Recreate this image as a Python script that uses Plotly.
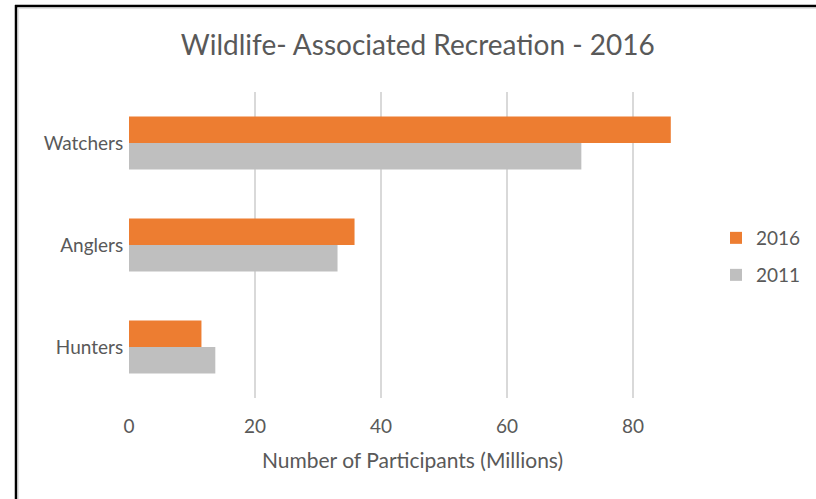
import plotly.graph_objects as go

categories = ["Hunters", "Anglers", "Watchers"]
values_2011 = [13.7, 33.1, 71.8]
values_2016 = [11.5, 35.8, 86.0]
x_ticks = [0, 20, 40, 60, 80]

W, H = 816, 499
ML, MR, MT, MB = 129, 120, 92, 101
FONT = "Lato"
GRAY = "#595959"

fig = go.Figure()
fig.add_trace(go.Bar(y=categories, x=values_2011, orientation="h", name="2011",
                     marker=dict(color="#BFBFBF", line=dict(width=0)), legend="legend2"))
fig.add_trace(go.Bar(y=categories, x=values_2016, orientation="h", name="2016",
                     marker=dict(color="#ED7D31", line=dict(width=0)), legend="legend"))

def px_x(p):
    return (p - ML) / (W - ML - MR)

def px_y(p):
    return 1 - (p - MT) / (H - MT - MB)

shapes = [
    dict(type="line", xref="paper", yref="paper", x0=px_x(15), x1=px_x(820), y0=px_y(6), y1=px_y(6),
         line=dict(color="black", width=2.5)),
    dict(type="line", xref="paper", yref="paper", x0=px_x(16), x1=px_x(16), y0=px_y(5), y1=px_y(505),
         line=dict(color="black", width=2.5)),
    dict(type="line", xref="paper", yref="paper", x0=px_x(18), x1=px_x(820), y0=px_y(8.5), y1=px_y(8.5),
         line=dict(color="#E3E3E3", width=1)),
    dict(type="line", xref="paper", yref="paper", x0=px_x(18.5), x1=px_x(18.5), y0=px_y(8), y1=px_y(505),
         line=dict(color="#E3E3E3", width=1)),
]

legend_common = dict(xanchor="left", yanchor="middle", font=dict(size=19, color=GRAY),
                     itemwidth=30, bgcolor="rgba(0,0,0,0)")

fig.update_layout(
    width=W, height=H,
    margin=dict(l=ML, r=MR, t=MT, b=MB, autoexpand=False),
    paper_bgcolor="white", plot_bgcolor="white",
    barmode="group", bargap=0.48, bargroupgap=0,
    font=dict(family=FONT, color=GRAY, size=19),
    title=dict(text="Wildlife- Associated Recreation - 2016", x=0.512, xanchor="center",
               y=1 - 45 / H, yanchor="middle", font=dict(size=28, color=GRAY, family=FONT)),
    xaxis=dict(range=[0, 90], tickvals=x_ticks, showgrid=True, gridcolor="#D9D9D9", gridwidth=1.5,
               zeroline=False, showline=False, ticks="", tickfont=dict(size=19, color=GRAY),
               ticklabelstandoff=15,
               title=dict(text="Number of Participants (Millions)", font=dict(size=21, color=GRAY),
                          standoff=17)),
    yaxis=dict(showgrid=False, zeroline=False, showline=False, ticks="", ticksuffix=" ",
               tickfont=dict(size=19, color=GRAY)),
    legend=dict(x=px_x(716), y=px_y(238), **legend_common),
    legend2=dict(x=px_x(716), y=px_y(275), **legend_common),
    shapes=shapes,
    showlegend=True,
)

fig.write_html("out.html", config={"displayModeBar": False},
               post_script="document.body.style.margin='0';document.body.style.overflow='hidden';")
